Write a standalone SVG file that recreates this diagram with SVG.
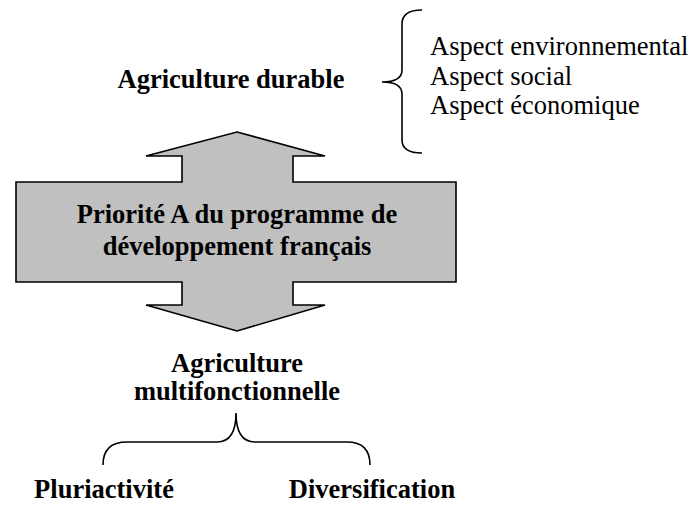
<svg xmlns="http://www.w3.org/2000/svg" width="691" height="506" viewBox="0 0 691 506">
<style>
.b{font-family:'Liberation Serif','Times New Roman',Times,'DejaVu Serif',serif;font-weight:bold;font-size:26.5px;fill:#000}
.r{font-family:'Liberation Serif','Times New Roman',Times,'DejaVu Serif',serif;font-size:26.5px;fill:#000}
.br{fill:none;stroke:#000;stroke-width:1.6}
</style>
<rect width="691" height="506" fill="#fff"/>
<g id="priorite">
<polygon points="237,132 325,156 293,156 293,182 456,182 456,282 293,282 293,305 325,305 237,331 146,305 182,305 182,282 16,282 16,182 182,182 182,156 146,156" fill="#c0c0c0" stroke="#000" stroke-width="1.6" stroke-linejoin="miter"/>
<text class="b" x="237" y="223" text-anchor="middle">Priorité A du programme de</text>
<text class="b" x="237" y="255" text-anchor="middle">développement français</text>
</g>
<g id="durable">
<text class="b" x="231" y="88" text-anchor="middle">Agriculture durable</text>
</g>
<g id="aspects">
<text class="r" x="430" y="55">Aspect environnemental</text>
<text class="r" x="430" y="85">Aspect social</text>
<text class="r" x="430" y="114">Aspect économique</text>
</g>
<g id="multi">
<text class="b" x="237" y="372" text-anchor="middle">Agriculture</text>
<text class="b" x="237" y="400" text-anchor="middle">multifonctionnelle</text>
</g>
<g id="pluri">
<text class="b" x="104" y="498" text-anchor="middle">Pluriactivité</text>
</g>
<g id="diversification">
<text class="b" x="372" y="498" text-anchor="middle">Diversification</text>
</g>
<g id="connectors">
<path class="br" d="M422,10 Q402,10 402,24 L402,70 Q402,82 382,82 Q402,82 402,94 L402,140 Q402,153 422,153"/>
<path class="br" d="M103,465 Q103,442 127,442 L217,442 Q236,442 236,413 Q236,442 255,442 L347,442 Q370,442 370,465"/>
</g>
</svg>
